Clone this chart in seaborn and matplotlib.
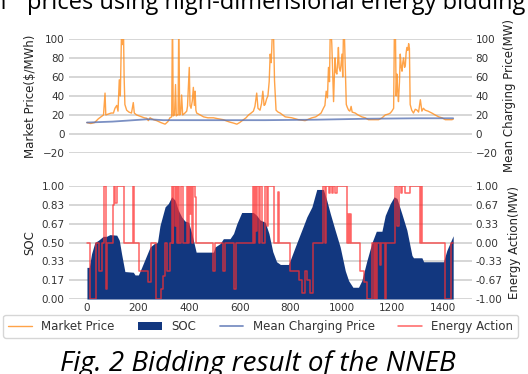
import matplotlib
matplotlib.use('Agg')
import matplotlib.pyplot as plt
import seaborn as sns

price_t = [0, 15, 30, 45, 55, 65, 71, 74, 85, 95, 104, 110, 117, 122, 127, 131, 136, 140, 143, 146,
           149, 156, 165, 175, 182, 186, 195, 205, 215, 225, 235, 241, 248, 254, 262, 274, 290, 307,
           318, 326, 333, 336, 339, 344, 348, 351, 355, 358, 361, 364, 368, 372, 376, 385, 392, 395,
           402, 405, 409, 414, 418, 422, 425, 428, 431, 445, 458, 475, 497, 515, 536, 550, 562, 575,
           589, 600, 615, 625, 635, 645, 654, 660, 667, 672, 680, 686, 691, 696, 700, 706, 711, 716,
           720, 724, 729, 732, 737, 743, 751, 759, 779, 805, 831, 857, 884, 899, 910, 920, 929, 935,
           940, 945, 949, 953, 956, 959, 962, 966, 969, 972, 975, 978, 982, 985, 988, 991, 995, 998,
           1002, 1005, 1008, 1011, 1015, 1019, 1023, 1028, 1033, 1038, 1042, 1054, 1065, 1080, 1093,
           1106, 1125, 1146, 1160, 1172, 1185, 1192, 1198, 1205, 1208, 1211, 1215, 1218, 1221, 1224,
           1228, 1231, 1235, 1238, 1241, 1244, 1248, 1251, 1254, 1257, 1261, 1264, 1267, 1270, 1276,
           1283, 1290, 1297, 1303, 1310, 1316, 1322, 1329, 1340, 1355, 1368, 1382, 1395, 1408, 1420,
           1434, 1439]
market_price = [12, 11, 12, 16, 18, 20, 43, 20, 21, 22, 22, 27, 30, 24, 57, 40, 110, 94, 120, 60,
                31, 25, 23, 22, 33, 22, 20, 19, 18, 17, 16.5, 14, 17, 16, 15, 14, 12, 10.3,
                13, 17, 18, 130, 19, 20, 52, 19, 20, 20, 130, 20, 21, 41, 20, 22, 24, 29,
                70, 30, 27, 35, 49, 30, 45, 25, 22, 20, 18, 17, 17, 16, 15, 13.5, 12.4, 11.5,
                10.3, 12, 15, 17, 20, 22, 24, 29, 43, 27, 25, 32, 45, 30, 31, 37, 40, 55,
                84, 75, 110, 120, 56, 25, 23, 22, 18, 17, 15, 14, 17, 18, 20, 22, 27, 30,
                45, 38, 70, 55, 110, 110, 95, 60, 34, 60, 80, 65, 63, 75, 91, 70, 66, 72,
                84, 60, 110, 110, 70, 31, 28, 25, 24, 29, 23, 22, 20, 18, 17,
                15, 15, 15, 17, 20, 21, 22, 24, 27, 110, 130, 40, 63, 45, 34,
                55, 84, 70, 66, 75, 80, 70, 72, 85, 91, 88, 95, 90, 31, 25,
                22, 26, 25, 23, 36, 24, 27, 25, 24, 22, 20, 18, 17, 15, 15,
                15, 15.5]

mean_t = [0, 100, 240, 300, 500, 700, 900, 1100, 1300, 1439]
mean_price = [12, 13, 15.5, 14.5, 14.5, 14.5, 15, 16, 16.5, 16.5]

soc_t = [0, 9, 18, 31, 45, 64, 77, 90, 117, 127, 136, 149, 182, 189, 202, 215, 248, 264, 277, 287,
         307, 320, 333, 346, 359, 372, 385, 399, 412, 429, 497, 503, 523, 536, 562, 576, 589, 608,
         654, 667, 680, 700, 715, 730, 745, 760, 792, 798, 825, 851, 864, 884, 903, 929, 942, 956,
         975, 995, 1015, 1028, 1045, 1067, 1080, 1100, 1120, 1137, 1159, 1172, 1192, 1207, 1218,
         1237, 1257, 1277, 1283, 1316, 1323, 1401, 1414, 1439]
soc = [0.28, 0.28, 0.40, 0.50, 0.52, 0.555, 0.555, 0.57, 0.565, 0.52, 0.40, 0.243, 0.237, 0.213,
       0.213, 0.28, 0.46, 0.49, 0.50, 0.65, 0.816, 0.846, 0.905, 0.875, 0.786, 0.727, 0.69, 0.68,
       0.58, 0.415, 0.415, 0.46, 0.49, 0.534, 0.534, 0.58, 0.667, 0.766, 0.766, 0.74, 0.70, 0.68,
       0.58, 0.42, 0.33, 0.306, 0.306, 0.34, 0.50, 0.65, 0.727, 0.816, 0.97, 0.97, 0.875, 0.757,
       0.61, 0.46, 0.25, 0.163, 0.104, 0.104, 0.163, 0.34, 0.50, 0.60, 0.60, 0.74, 0.846, 0.905,
       0.89, 0.757, 0.61, 0.386, 0.365, 0.365, 0.33, 0.33, 0.43, 0.56]

# energy action (MW), value holds from each time until the next one
action_t = [0, 12, 34, 47, 58, 68, 74, 80, 102, 108, 112, 118, 145, 182, 185, 205, 240, 250, 272,
            290, 300, 307, 316, 326, 333, 337, 340, 344, 348, 352, 356, 362, 370, 376, 392, 396,
            400, 404, 408, 414, 418, 424, 428, 497, 505, 534, 542, 576, 586, 652, 656, 662, 666,
            670, 676, 680, 686, 700, 708, 712, 735, 752, 755, 798, 835, 844, 857, 864, 877, 887,
            890, 929, 935, 940, 950, 956, 962, 968, 975, 982, 1020, 1027, 1030, 1034, 1038, 1074,
            1090, 1100, 1120, 1126, 1130, 1137, 1141, 1152, 1156, 1172, 1176, 1212, 1220, 1225,
            1232, 1236, 1250, 1270, 1310, 1314, 1318, 1408, 1432, 1439]
action = [0, -1, 0, -0.5, 0, 1, -0.82, 0, 0.67, 1, 0.7, 1, 0, 1, 0, -0.5, -0.7, 0, -1,
          -0.82, -0.6, 0, -0.5, 0, 1, 0, 1, 0.3, 1, 0, 1, 0, 1, 0, 1, 0,
          1, 0.5, 1, 0, 1, 0.8, 0, -0.5, 0, -0.5, 0, -0.82, 0, 1, 0, 1, 0.2,
          1, 0, 1, 0, 1, 0.3, 1, 0, 0.9, 0, -0.5, -0.67, -0.9, -0.5, -0.67, -0.9, -0.5,
          0, 1, 0, 1, 0.87, 1, 0.87, 1, 0.87, 1, 0, 0.5, 0, 0.5, 0, -0.5,
          -0.7, -1, 0, -1, 0, -1, 0, -0.4, 0, -1, 0, 1, 0.3, 1,
          0.87, 1, 0.87, 1, 0, 1, 0, -1, 0, 0]

price_ticks = [-20, 0, 20, 40, 60, 80, 100]
soc_ticks = [0, 1/6, 2/6, 3/6, 4/6, 5/6, 1]
soc_labels = ['0.00', '0.17', '0.33', '0.50', '0.67', '0.83', '1.00']
act_ticks = [-1, -2/3, -1/3, 0, 1/3, 2/3, 1]
act_labels = ['-1.00', '-0.67', '-0.33', '0.00', '0.33', '0.67', '1.00']

sns.set_theme(style='whitegrid')
plt.rcParams['font.family'] = ['DejaVu Sans']

fig = plt.figure(figsize=(5.28, 3.74), dpi=100)
ax1 = fig.add_axes([0.130, 0.591, 0.763, 0.305])
ax2 = fig.add_axes([0.130, 0.2005, 0.763, 0.302], sharex=ax1)
ax1t = ax1.twinx()
ax2t = ax2.twinx()

c_price = '#ff8c1a'
c_soc = '#12377f'
c_mean = '#5a74b4'
c_act = '#ff3030'

sns.lineplot(x=price_t, y=market_price, ax=ax1, color=c_price, lw=1, alpha=0.8, legend=False)
sns.lineplot(x=mean_t, y=mean_price, ax=ax1t, color=c_mean, lw=1.3, alpha=0.8, legend=False)
soc_fill = ax2.fill_between(soc_t, soc, color=c_soc, lw=0)
sns.lineplot(x=action_t, y=action, ax=ax2t, color=c_act, lw=1.1, alpha=0.75,
             drawstyle='steps-post', legend=False)

tick_kw = dict(labelsize=7.5, length=0, pad=3, colors='#333333')
for ax in (ax1, ax1t, ax2, ax2t):
    for s in ax.spines.values():
        s.set_visible(False)
    ax.tick_params(**tick_kw)
    ax.set_xlabel('')
    ax.xaxis.grid(False)

ax1.set_ylim(-20, 100)
ax1t.set_ylim(-20, 100)
ax1.set_yticks(price_ticks)
ax1t.set_yticks(price_ticks)
ax1t.grid(False)
ax1.tick_params(labelbottom=False)
ax1.yaxis.grid(True, color='#d0d0d0', lw=1.2)

ax2.set_ylim(0, 1)
ax2.set_yticks(soc_ticks)
ax2.set_yticklabels(soc_labels)
ax2t.set_ylim(-1, 1)
ax2t.set_yticks(act_ticks)
ax2t.set_yticklabels(act_labels)
ax2t.grid(False)
ax2.yaxis.grid(True, color='#d0d0d0', lw=1.2)
ax2.set_xticks([0, 200, 400, 600, 800, 1000, 1200, 1400])
ax2.set_xlim(-72, 1511)

lab = dict(fontsize=8.5, color='#222222')
ax1.set_ylabel('Market Price($/MWh)', labelpad=4, **lab)
ax1t.set_ylabel('Mean Charging Price(MW)', labelpad=4, **lab)
ax2.set_ylabel('SOC', labelpad=4, **lab)
ax2t.set_ylabel('Energy Action(MW)', labelpad=4, **lab)

handles = [ax1.lines[0], soc_fill, ax1t.lines[0], ax2t.lines[0]]
labels = ['Market Price', 'SOC', 'Mean Charging Price', 'Energy Action']
leg = fig.legend(handles, labels, loc='center', bbox_to_anchor=(0.494, 0.1275), ncol=4,
                 fontsize=8.5, frameon=True, fancybox=True, edgecolor='#cccccc')
for t in leg.get_texts():
    t.set_color('#333333')

# caption below the chart and the cut-off line of body text above it
fig.text(0.489, 0.008, 'Fig. 2 Bidding result of the NNEB', ha='center', va='baseline',
         fontsize=20, style='italic', family=['Open Sans', 'DejaVu Sans'], color='black')
fig.text(0.013, 0.976, 'n', ha='right', va='baseline', fontsize=17,
         family=['Open Sans', 'DejaVu Sans'], color='black')
fig.text(0.051, 0.976, 'prices using high-dimensional energy bidding', ha='left',
         va='baseline', fontsize=17, family=['Open Sans', 'DejaVu Sans'], color='black')

fig.savefig('out.png', dpi=100)
